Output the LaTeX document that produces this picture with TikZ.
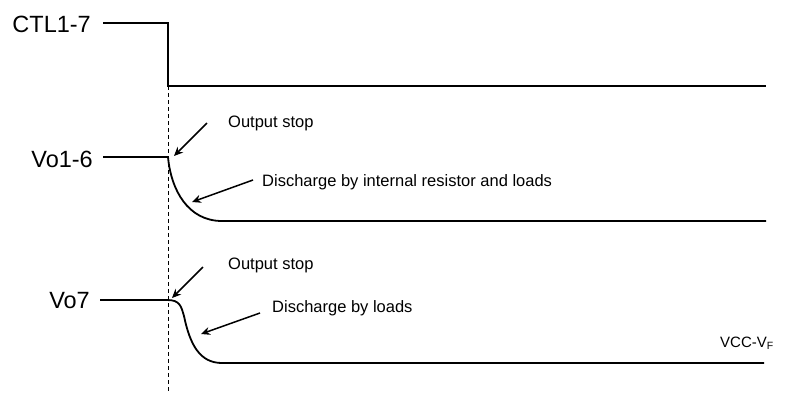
\documentclass[tikz,border=0pt]{standalone}
\usepackage{fontspec}
\setmainfont{Liberation Sans}
\usetikzlibrary{arrows.meta}
\begin{document}
\begin{tikzpicture}[x=1pt,y=-1pt,
  sig/.style={line width=1.8pt, line join=miter},
  lbl/.style={font=\fontsize{23.5}{26}\selectfont, inner sep=0pt},
  note/.style={font=\fontsize{16.5}{19}\selectfont, inner sep=0pt, anchor=west},
  pointer/.style={line width=1.5pt, -{Stealth[length=9pt,width=8pt]}},
  guide/.style={line width=0.8pt, dash pattern=on 4pt off 3pt}]
\useasboundingbox (0,0) rectangle (787,394);
% labels
\node[lbl, anchor=east] (ctl) at (91,24) {CTL1-7};
\node[lbl, anchor=east] (vo16) at (93,159) {Vo1-6};
\node[lbl, anchor=east] (vo7) at (90,301) {Vo7};
% coordinates
\coordinate (c0) at (103,23);
\coordinate (c1) at (168,23);
\coordinate (c2) at (168,86);
\coordinate (c3) at (766,86);
\coordinate (a0) at (103,157);
\coordinate (a1) at (168,157);
\coordinate (a2) at (222,221);
\coordinate (a3) at (766,221);
\coordinate (b0) at (100,300);
\coordinate (b1) at (167,300);
\coordinate (b2) at (222,363);
\coordinate (b3) at (764,363);
\coordinate (g0) at (168,86);
\coordinate (g1) at (168,392);
% guide
\draw[guide] (g0) -- (g1);
% signals
\draw[sig] (c0) -- (c1) -- (c2) -- (c3);
\draw[sig] (a0) -- (a1) .. controls (171,190) and (188,221) .. (a2) -- (a3);
\draw[sig] (b0) -- (b1) .. controls (180,300) and (181,306) .. (184,316)
  .. controls (190,345) and (200,363) .. (b2) -- (b3);
% notes
\node[note] (os1) at (228,123) {Output stop};
\node[note] (dis1) at (262,182) {Discharge by internal resistor and loads};
\node[note] (os2) at (228,265) {Output stop};
\node[note] (dis2) at (272,308) {Discharge by loads};
\node[inner sep=0pt, anchor=west, font=\fontsize{15}{17}\selectfont] (vcc) at (720,343) {VCC-V\textsubscript{F}};
% pointers
\coordinate (p1s) at (207,123); \coordinate (p1e) at (174,156);
\coordinate (p2s) at (253,180); \coordinate (p2e) at (192,202);
\coordinate (p3s) at (203,267); \coordinate (p3e) at (172,298);
\coordinate (p4s) at (260,313); \coordinate (p4e) at (201,334);
\draw[pointer] (p1s) -- (p1e);
\draw[pointer] (p2s) -- (p2e);
\draw[pointer] (p3s) -- (p3e);
\draw[pointer] (p4s) -- (p4e);
\end{tikzpicture}
\end{document}
